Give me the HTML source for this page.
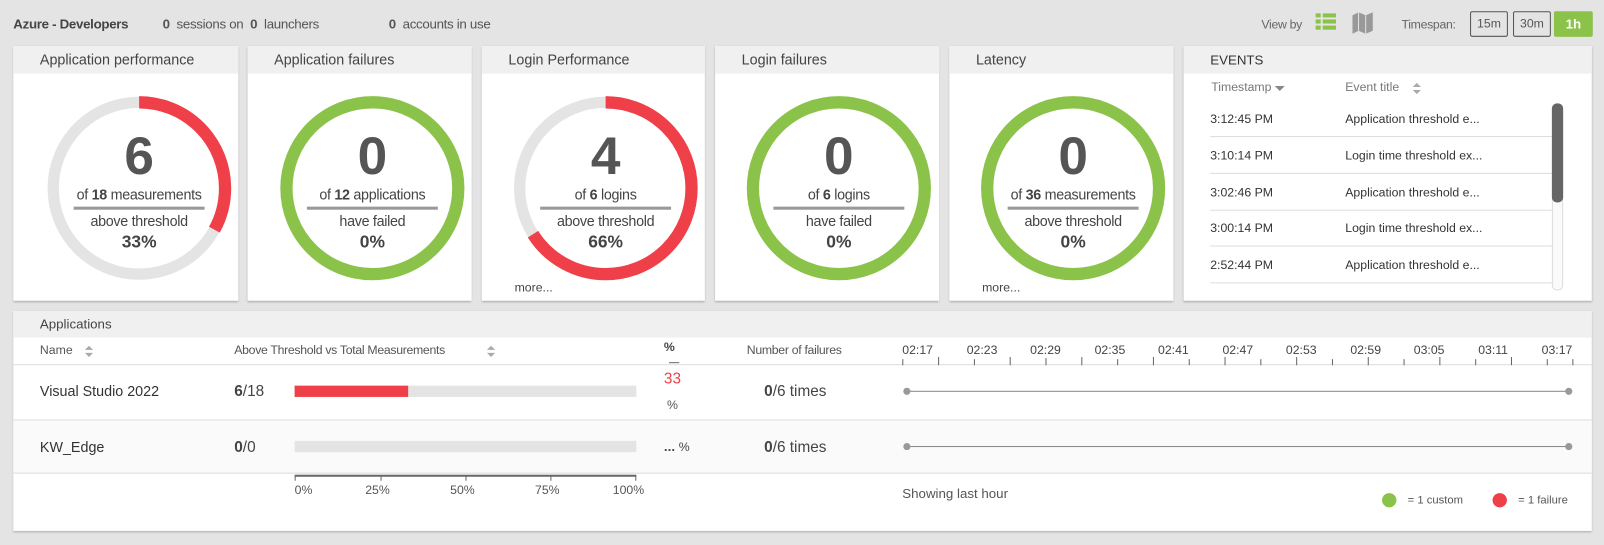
<!DOCTYPE html>
<html><head><meta charset="utf-8"><style>
*{margin:0;padding:0;box-sizing:border-box}
body{width:1604px;height:545px;background:#e4e4e4;font-family:"Liberation Sans",sans-serif;color:#444;position:relative;overflow:hidden}
#w{position:absolute;left:0;top:0;width:1568px;height:533px;transform:scale(1.023);transform-origin:0 0}
.a{position:absolute;white-space:nowrap}
.card{position:absolute;top:45px;height:249px;background:#fff;box-shadow:0 1px 2px rgba(0,0,0,.25)}
.hd{position:absolute;left:0;right:0;top:0;height:27px;background:#f0f0f0;font-size:14px;color:#444;padding:5px 0 0 26px}
.c{position:absolute;text-align:center;width:180px;margin-left:-90px}
.big{font-size:52px;font-weight:bold;color:#555;top:78px}
.of{font-size:14px;top:137px;letter-spacing:-0.3px}
.ln{position:absolute;top:157px;height:3px;width:128px;margin-left:-64px;background:#999}
.ab{font-size:14px;top:163px;letter-spacing:-0.3px}
.pc{font-size:17px;font-weight:bold;top:182px}
.more{position:absolute;left:32px;top:229px;font-size:12px}
.ev{position:absolute;left:26px;font-size:12px;color:#333}
.et{position:absolute;left:158px;font-size:12px;color:#333}
.sep{position:absolute;left:26px;width:340px;height:1px;background:#ddd}
.btn{position:absolute;top:11px;height:25px;border:1px solid #555;border-radius:2px;font-size:12px;color:#555;text-align:center;line-height:23px}
</style></head><body><div id="w">
<div class="a" style="left:13px;top:16px;font-size:13px;font-weight:bold;color:#444;letter-spacing:-0.3px">Azure - Developers</div>
<div class="a" style="left:159px;top:16px;font-size:13px;color:#555;letter-spacing:-0.3px"><b>0</b>&nbsp; sessions on&nbsp; <b>0</b>&nbsp; launchers</div>
<div class="a" style="left:380px;top:16px;font-size:13px;color:#555;letter-spacing:-0.3px"><b>0</b>&nbsp; accounts in use</div>
<div class="a" style="left:1233px;top:17px;font-size:12px;color:#666;letter-spacing:-0.3px">View by</div>
<svg class="a" style="left:1286px;top:13px" width="20" height="17"><g fill="#8bc34a"><rect x="0" y="0" width="5" height="4"/><rect x="7" y="0" width="13" height="4"/><rect x="0" y="6" width="5" height="4"/><rect x="7" y="6" width="13" height="4"/><rect x="0" y="12" width="5" height="4"/><rect x="7" y="12" width="13" height="4"/></g></svg>
<svg class="a" style="left:1322px;top:12px" width="20" height="21"><path d="M0 3 L6 0 L13 3 L20 0 L20 18 L13 21 L6 18 L0 21Z" fill="#999"/><path d="M6 0V18M13 3V21" stroke="#e4e4e4" stroke-width="1"/></svg>
<div class="a" style="left:1370px;top:17px;font-size:12px;color:#666;letter-spacing:-0.3px">Timespan:</div>
<div class="btn" style="left:1437px;width:37px">15m</div>
<div class="btn" style="left:1479px;width:37px">30m</div>
<div class="btn" style="left:1519px;width:38px;background:#8bc34a;border-color:#8bc34a;color:#fff;font-weight:bold;font-size:13px">1h</div>

<div class="card" style="left:13px;width:220px"><div class="hd">Application performance</div>
<svg class="a" style="left:0;top:0" width="220" height="249"><circle cx="123" cy="139" r="84" fill="none" stroke="#e4e4e4" stroke-width="11"/><circle cx="123" cy="139" r="84" fill="none" stroke="#ef4049" stroke-width="12" stroke-dasharray="174.2 400" transform="rotate(-90 123 139)"/></svg>
<div class="c big" style="left:123px">6</div><div class="c of" style="left:123px">of <b>18</b> measurements</div><div class="ln" style="left:123px"></div><div class="c ab" style="left:123px">above threshold</div><div class="c pc" style="left:123px">33%</div></div>

<div class="card" style="left:242px;width:219px"><div class="hd">Application failures</div>
<svg class="a" style="left:0;top:0" width="219" height="249"><circle cx="122" cy="139" r="84" fill="none" stroke="#8bc34a" stroke-width="12"/></svg>
<div class="c big" style="left:122px">0</div><div class="c of" style="left:122px">of <b>12</b> applications</div><div class="ln" style="left:122px"></div><div class="c ab" style="left:122px">have failed</div><div class="c pc" style="left:122px">0%</div></div>

<div class="card" style="left:471px;width:218px"><div class="hd">Login Performance</div>
<svg class="a" style="left:0;top:0" width="218" height="249"><circle cx="121" cy="139" r="84" fill="none" stroke="#e4e4e4" stroke-width="11"/><circle cx="121" cy="139" r="84" fill="none" stroke="#ef4049" stroke-width="12" stroke-dasharray="348.3 600" transform="rotate(-90 121 139)"/></svg>
<div class="c big" style="left:121px">4</div><div class="c of" style="left:121px">of <b>6</b> logins</div><div class="ln" style="left:121px"></div><div class="c ab" style="left:121px">above threshold</div><div class="c pc" style="left:121px">66%</div><div class="more">more...</div></div>

<div class="card" style="left:699px;width:219px"><div class="hd">Login failures</div>
<svg class="a" style="left:0;top:0" width="219" height="249"><circle cx="121" cy="139" r="84" fill="none" stroke="#8bc34a" stroke-width="12"/></svg>
<div class="c big" style="left:121px">0</div><div class="c of" style="left:121px">of <b>6</b> logins</div><div class="ln" style="left:121px"></div><div class="c ab" style="left:121px">have failed</div><div class="c pc" style="left:121px">0%</div></div>

<div class="card" style="left:928px;width:219px"><div class="hd">Latency</div>
<svg class="a" style="left:0;top:0" width="219" height="249"><circle cx="121" cy="139" r="84" fill="none" stroke="#8bc34a" stroke-width="12"/></svg>
<div class="c big" style="left:121px">0</div><div class="c of" style="left:121px">of <b>36</b> measurements</div><div class="ln" style="left:121px"></div><div class="c ab" style="left:121px">above threshold</div><div class="c pc" style="left:121px">0%</div><div class="more">more...</div></div>

<div class="card" style="left:1157px;width:399px"><div class="hd" style="color:#333;font-size:13px;padding-left:26px;padding-top:6px">EVENTS</div>
<div class="a" style="left:27px;top:33px;font-size:12px;color:#777">Timestamp</div>
<svg class="a" style="left:89px;top:39px" width="10" height="6"><path d="M0 0H10L5 5Z" fill="#888"/></svg>
<div class="a" style="left:158px;top:33px;font-size:12px;color:#777">Event title</div>
<svg class="a" style="left:224px;top:36px" width="8" height="11"><path d="M0 4L4 0L8 4ZM0 7L8 7L4 11Z" fill="#aaa"/></svg>
<div class="ev" style="top:64px">3:12:45 PM</div><div class="et" style="top:64px">Application threshold e...</div><div class="sep" style="top:88px"></div>
<div class="ev" style="top:100px">3:10:14 PM</div><div class="et" style="top:100px">Login time threshold ex...</div><div class="sep" style="top:124px"></div>
<div class="ev" style="top:136px">3:02:46 PM</div><div class="et" style="top:136px">Application threshold e...</div><div class="sep" style="top:160px"></div>
<div class="ev" style="top:171px">3:00:14 PM</div><div class="et" style="top:171px">Login time threshold ex...</div><div class="sep" style="top:195px"></div>
<div class="ev" style="top:207px">2:52:44 PM</div><div class="et" style="top:207px">Application threshold e...</div><div class="sep" style="top:231px"></div>
<div class="a" style="left:360px;top:56px;width:11px;height:183px;border:1px solid #ddd;border-radius:5px;background:#fafafa"></div>
<div class="a" style="left:360px;top:56px;width:11px;height:97px;border-radius:5px;background:#666"></div>
</div>

<div class="card" style="left:13px;top:304px;width:1543px;height:215px">
<div class="hd" style="height:26px;padding-top:5px;font-size:13px">Applications</div>
<div class="a" style="left:26px;top:31px;font-size:12px;color:#555">Name</div>
<svg class="a" style="left:70px;top:34px" width="8" height="11"><path d="M0 4L4 0L8 4ZM0 7L8 7L4 11Z" fill="#aaa"/></svg>
<div class="a" style="left:216px;top:31px;font-size:12px;color:#555;letter-spacing:-0.3px">Above Threshold vs Total Measurements</div>
<svg class="a" style="left:463px;top:34px" width="8" height="11"><path d="M0 4L4 0L8 4ZM0 7L8 7L4 11Z" fill="#aaa"/></svg>
<div class="a" style="left:636px;top:28px;font-size:12px;color:#444;font-weight:bold">%</div>
<div class="a" style="left:641px;top:50px;width:10px;height:1px;background:#666"></div>
<div class="a" style="left:717px;top:31px;font-size:12px;color:#555;letter-spacing:-0.3px">Number of failures</div>
<div class="a" style="left:0;top:52px;width:1543px;height:1px;background:#ddd"></div>
<div class="a" style="left:0;top:106px;width:1543px;height:53px;background:#fafafa;border-top:1px solid #ddd;border-bottom:1px solid #ddd"></div>
<svg class="a" style="left:860px;top:25px" width="683" height="30" font-family="Liberation Sans" font-size="12" fill="#444">
<text x="9" y="17">02:17</text><text x="72" y="17">02:23</text><text x="134" y="17">02:29</text><text x="197" y="17">02:35</text><text x="259" y="17">02:41</text><text x="322" y="17">02:47</text><text x="384" y="17">02:53</text><text x="447" y="17">02:59</text><text x="509" y="17">03:05</text><text x="572" y="17">03:11</text><text x="634" y="17">03:17</text>
<g stroke="#666" stroke-width="1">
<path d="M9.5 22V28M44.5 20V28M79.5 22V28M114.5 20V28M149.5 21V28M184.5 20V28M219.5 22V28M254.5 20V28M289.5 22V28M324.5 20V28M359.5 22V28M394.5 20V28M429.5 22V28M464.5 20V28M499.5 22V28M534.5 20V28M569.5 22V28M604.5 20V28M639.5 22V28M664.5 22V28"/></g></svg>
<div class="a" style="left:26px;top:70px;font-size:14px;color:#333">Visual Studio 2022</div>
<div class="a" style="left:216px;top:70px;font-size:15px;color:#444"><b>6</b>/18</div>
<div class="a" style="left:275px;top:73px;width:334px;height:11px;background:#e4e4e4"></div>
<div class="a" style="left:275px;top:73px;width:111px;height:11px;background:#ef4049"></div>
<div class="a" style="left:636px;top:58px;font-size:15px;color:#ef4049">33</div>
<div class="a" style="left:639px;top:85px;font-size:12px;color:#555">%</div>
<div class="a" style="left:734px;top:70px;font-size:15px;color:#444"><b>0</b>/6 times</div>
<div class="a" style="left:874px;top:78px;width:647px;height:1px;background:#888"></div>
<div class="a" style="left:870px;top:75px;width:7px;height:7px;border-radius:50%;background:#999"></div>
<div class="a" style="left:1517px;top:75px;width:7px;height:7px;border-radius:50%;background:#999"></div>
<div class="a" style="left:26px;top:125px;font-size:14px;color:#333">KW_Edge</div>
<div class="a" style="left:216px;top:125px;font-size:15px;color:#444"><b>0</b>/0</div>
<div class="a" style="left:275px;top:127px;width:334px;height:11px;background:#e4e4e4"></div>
<div class="a" style="left:636px;top:125px;font-size:13px;color:#444"><b>...</b> <span style="font-size:12px">%</span></div>
<div class="a" style="left:734px;top:125px;font-size:15px;color:#444"><b>0</b>/6 times</div>
<div class="a" style="left:874px;top:132px;width:647px;height:1px;background:#888"></div>
<div class="a" style="left:870px;top:129px;width:7px;height:7px;border-radius:50%;background:#999"></div>
<div class="a" style="left:1517px;top:129px;width:7px;height:7px;border-radius:50%;background:#999"></div>
<svg class="a" style="left:270px;top:160px" width="350" height="26" font-family="Liberation Sans" font-size="12" fill="#555"><path d="M5 1H339" stroke="#666" stroke-width="2"/><path d="M5.5 1V6M89.5 1V6M172.5 1V6M255.5 1V6M338.5 1V6" stroke="#666"/><text x="5" y="19">0%</text><text x="74" y="19">25%</text><text x="157" y="19">50%</text><text x="240" y="19">75%</text><text x="316" y="19">100%</text></svg>
<div class="a" style="left:869px;top:171px;font-size:13px;color:#555">Showing last hour</div>
<div class="a" style="left:1338px;top:178px;width:14px;height:14px;border-radius:50%;background:#8bc34a"></div>
<div class="a" style="left:1363px;top:179px;font-size:11px;color:#555">= 1 custom</div>
<div class="a" style="left:1446px;top:178px;width:14px;height:14px;border-radius:50%;background:#ef4049"></div>
<div class="a" style="left:1471px;top:179px;font-size:11px;color:#555">= 1 failure</div>
</div>
</div></body></html>
